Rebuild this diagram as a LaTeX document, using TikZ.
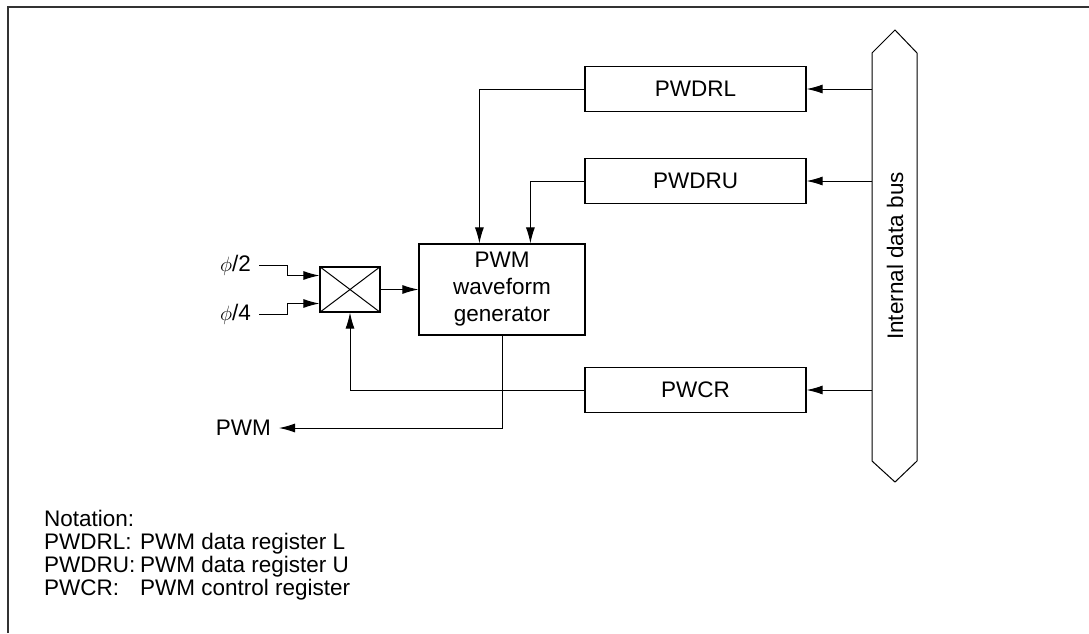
\documentclass[tikz,border=0pt]{standalone}
\usepackage{fontspec}
\setmainfont{Liberation Sans}
\usetikzlibrary{arrows.meta, calc, positioning}
\tikzset{
  >={Latex[length=16pt, width=9pt]},
  sigline/.style={->, line width=1pt, black},
  regbox/.style={draw, line width=1.2pt, minimum width=221pt,
                 minimum height=45pt, inner sep=0},
  genbox/.style={draw, line width=1.2pt, minimum width=166pt,
                 minimum height=91pt, align=center, inner sep=0},
  muxbox/.style={draw, line width=1.2pt, minimum width=60pt,
                 minimum height=45pt, inner sep=0},
  notetext/.style={anchor=base west, inner sep=0},
}

\begin{document}
\begin{tikzpicture}[x=1pt, y=-1pt, font=\fontsize{22.5}{27}\selectfont]
  \useasboundingbox (0,0) rectangle (1089,633);

  % ---- Frame ----
  \draw[line width=1.5pt, black!80] (8,633) -- (8,7) -- (1089,7);

  % ---- Internal data bus ----
  \draw[line width=1pt] (872,53) -- (895,30) -- (917,53) -- (917,461)
    -- (895,482) -- (872,461) -- cycle;
  \node[rotate=90] (buslbl) at (895,256) {Internal data bus};
  \coordinate (busw) at (872,0);

  % ---- Registers ----
  \node[regbox] (pwdrl) at (695.5,89)  {PWDRL};
  \node[regbox] (pwdru) at (695.5,181) {PWDRU};
  \node[regbox] (pwcr)  at (695.5,390) {PWCR};

  % ---- Waveform generator and selector ----
  \node[genbox] (gen) at (502,289.5) {PWM\\waveform\\generator};
  \node[muxbox] (mux) at (350,289.5) {};
  \draw[line width=1pt] (mux.north west) -- (mux.south east)
    (mux.south west) -- (mux.north east);

  \coordinate (genl) at ($(gen.north west)+(61,0)$);
  \coordinate (genu) at ($(gen.north west)+(112,0)$);

  % ---- Clock inputs ----
  \node[anchor=east, inner sep=0] (phi2) at (251,265) {$\phi$/2};
  \node[anchor=east, inner sep=0] (phi4) at (251,314) {$\phi$/4};
  \coordinate (muxa) at ($(mux.west)+(0,-14)$);
  \coordinate (muxb) at ($(mux.west)+(0,14)$);

  % ---- Output ----
  \node[anchor=east, inner xsep=8pt, inner ysep=0] (pwmout) at (279,428) {PWM};

  % ---- Connections ----
  \draw[sigline] (pwdrl.east -| busw) -- (pwdrl.east);
  \draw[sigline] (pwdru.east -| busw) -- (pwdru.east);
  \draw[sigline] (pwcr.east -| busw) -- (pwcr.east);

  \draw[sigline] (pwdrl.west) -| (genl);
  \draw[sigline] (pwdru.west) -| (genu);
  \draw[sigline] (pwcr.west) -| (mux.south);
  \draw[sigline] (mux.east) -- (gen.west);

  \draw[sigline] ([xshift=8pt]phi2.east) -- ++(28,0) |- (muxa);
  \draw[sigline] ([xshift=8pt]phi4.east) -- ++(28,0) |- (muxb);

  \draw[sigline] (gen.south) |- (pwmout.east);

  % ---- Notation ----
  \node[notetext] (nt0) at (44,526) {Notation:};
  \node[notetext] (nt1) at (44,549) {PWDRL:};
  \node[notetext] (nt2) at (44,572) {PWDRU:};
  \node[notetext] (nt3) at (44,595) {PWCR:};
  \node[notetext] (nd1) at (140,549) {PWM data register L};
  \node[notetext] (nd2) at (140,572) {PWM data register U};
  \node[notetext] (nd3) at (140,595) {PWM control register};
\end{tikzpicture}
\end{document}
